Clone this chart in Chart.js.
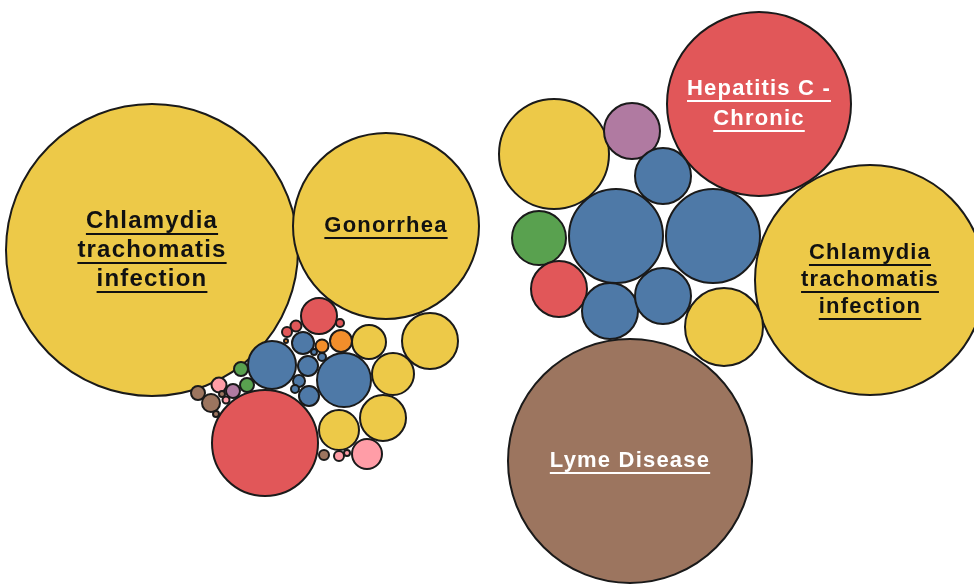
<!DOCTYPE html>
<html>
<head>
<meta charset="utf-8">
<script src="https://cdn.jsdelivr.net/npm/chart.js@4"></script>
<style>
  body { margin: 0; background: #fff; }
  #wrap { width: 974px; height: 584px; }
</style>
</head>
<body>
<div id="wrap"><canvas id="myChart" width="974" height="584"></canvas></div>
<script>
'use strict'

// one entry per bubble
const bubbleX = [152, 386, 430, 265, 272, 344, 319, 341, 322, 369, 393, 383, 339, 367,
  303, 308, 309, 299, 295, 322, 314, 296, 287, 340, 241, 247, 219, 233, 226, 198, 211, 216, 324, 339, 347, 286, 222,
  759, 870, 630, 554, 632, 663, 616, 713, 539, 559, 610, 663, 724]
const bubbleY = [250, 226, 341, 443, 365, 380, 316, 341, 346, 342, 374, 418, 430, 454,
  343, 366, 396, 381, 389, 357, 352, 326, 332, 323, 369, 385, 385, 391, 400, 393, 403, 414, 455, 456, 453, 341, 394,
  104, 280, 461, 154, 131, 176, 236, 236, 238, 289, 311, 296, 327]
const bubbleR = [146, 93, 28, 53, 24, 27, 18, 11, 6.5, 17, 21, 23, 20, 15,
  11, 10, 10, 6, 4, 4, 3, 5.5, 5, 4, 7, 7, 7.5, 7, 3.5, 7, 9, 3, 5, 5, 3, 2, 3,
  92, 115, 122, 55, 28, 28, 47, 47, 27, 28, 28, 28, 39]
const bubbleGroup = ['yellow', 'yellow', 'yellow', 'red', 'blue', 'blue', 'red', 'orange', 'orange', 'yellow', 'yellow', 'yellow', 'yellow', 'pink',
  'blue', 'blue', 'blue', 'blue', 'blue', 'blue', 'blue', 'red', 'red', 'red', 'green', 'green', 'pink', 'purple', 'pink', 'brown', 'brown', 'brown', 'brown', 'pink', 'pink', 'orange', 'brown',
  'red', 'yellow', 'brown', 'yellow', 'purple', 'blue', 'blue', 'blue', 'green', 'red', 'blue', 'blue', 'yellow']
const bubbleLabel = {
  0: ['Chlamydia', 'trachomatis', 'infection'],
  1: ['Gonorrhea'],
  37: ['Hepatitis C -', 'Chronic'],
  38: ['Chlamydia', 'trachomatis', 'infection'],
  39: ['Lyme Disease']
}

const palette = {
  blue: '#4E79A7', orange: '#F28E2B', red: '#E15759', green: '#59A14F',
  yellow: '#EDC948', purple: '#B07AA1', pink: '#FF9DA7', brown: '#9C755F'
}
const labelStyle = {
  0: { size: 24, lh: 29, color: '#111' },
  1: { size: 22, lh: 28, color: '#111' },
  37: { size: 22, lh: 30, color: '#fff' },
  38: { size: 22, lh: 27, color: '#111' },
  39: { size: 22, lh: 28, color: '#fff' }
}

const points = bubbleX.map((x, i) => ({ x: x, y: bubbleY[i], r: bubbleR[i] }))

const labelPlugin = {
  id: 'bubbleLabels',
  afterDatasetsDraw(chart) {
    const ctx = chart.ctx
    const meta = chart.getDatasetMeta(0)
    Object.keys(bubbleLabel).forEach((k) => {
      const el = meta.data[k]
      const lines = bubbleLabel[k]
      const st = labelStyle[k]
      ctx.save()
      ctx.font = `bold ${st.size}px "Liberation Sans", Arial, sans-serif`
      ctx.letterSpacing = '1.2px'
      ctx.fillStyle = st.color
      ctx.strokeStyle = st.color
      ctx.textAlign = 'center'
      ctx.textBaseline = 'middle'
      ctx.lineWidth = 2
      const top = el.y - (lines.length - 1) * st.lh / 2
      lines.forEach((line, j) => {
        const y = top + j * st.lh
        ctx.fillText(line, el.x, y)
        const w = ctx.measureText(line).width
        ctx.beginPath()
        ctx.moveTo(el.x - w / 2, y + st.size * 0.5 + 1)
        ctx.lineTo(el.x + w / 2, y + st.size * 0.5 + 1)
        ctx.stroke()
      })
      ctx.restore()
    })
  }
}

const ctx = document.getElementById('myChart')

const myChart = new Chart(ctx, {
  type: 'bubble',
  data: {
    datasets: [{
      data: points,
      backgroundColor: bubbleGroup.map((g) => palette[g]),
      borderColor: '#1a1a1a',
      borderWidth: 2,
      clip: false
    }]
  },
  options: {
    responsive: false,
    animation: false,
    devicePixelRatio: 1,
    layout: { padding: 0, autoPadding: false },
    plugins: { legend: { display: false }, tooltip: { enabled: false } },
    scales: {
      x: { type: 'linear', min: 0, max: 974, display: false },
      y: { type: 'linear', min: 0, max: 584, reverse: true, display: false }
    }
  },
  plugins: [labelPlugin]
})
</script>
</body>
</html>
